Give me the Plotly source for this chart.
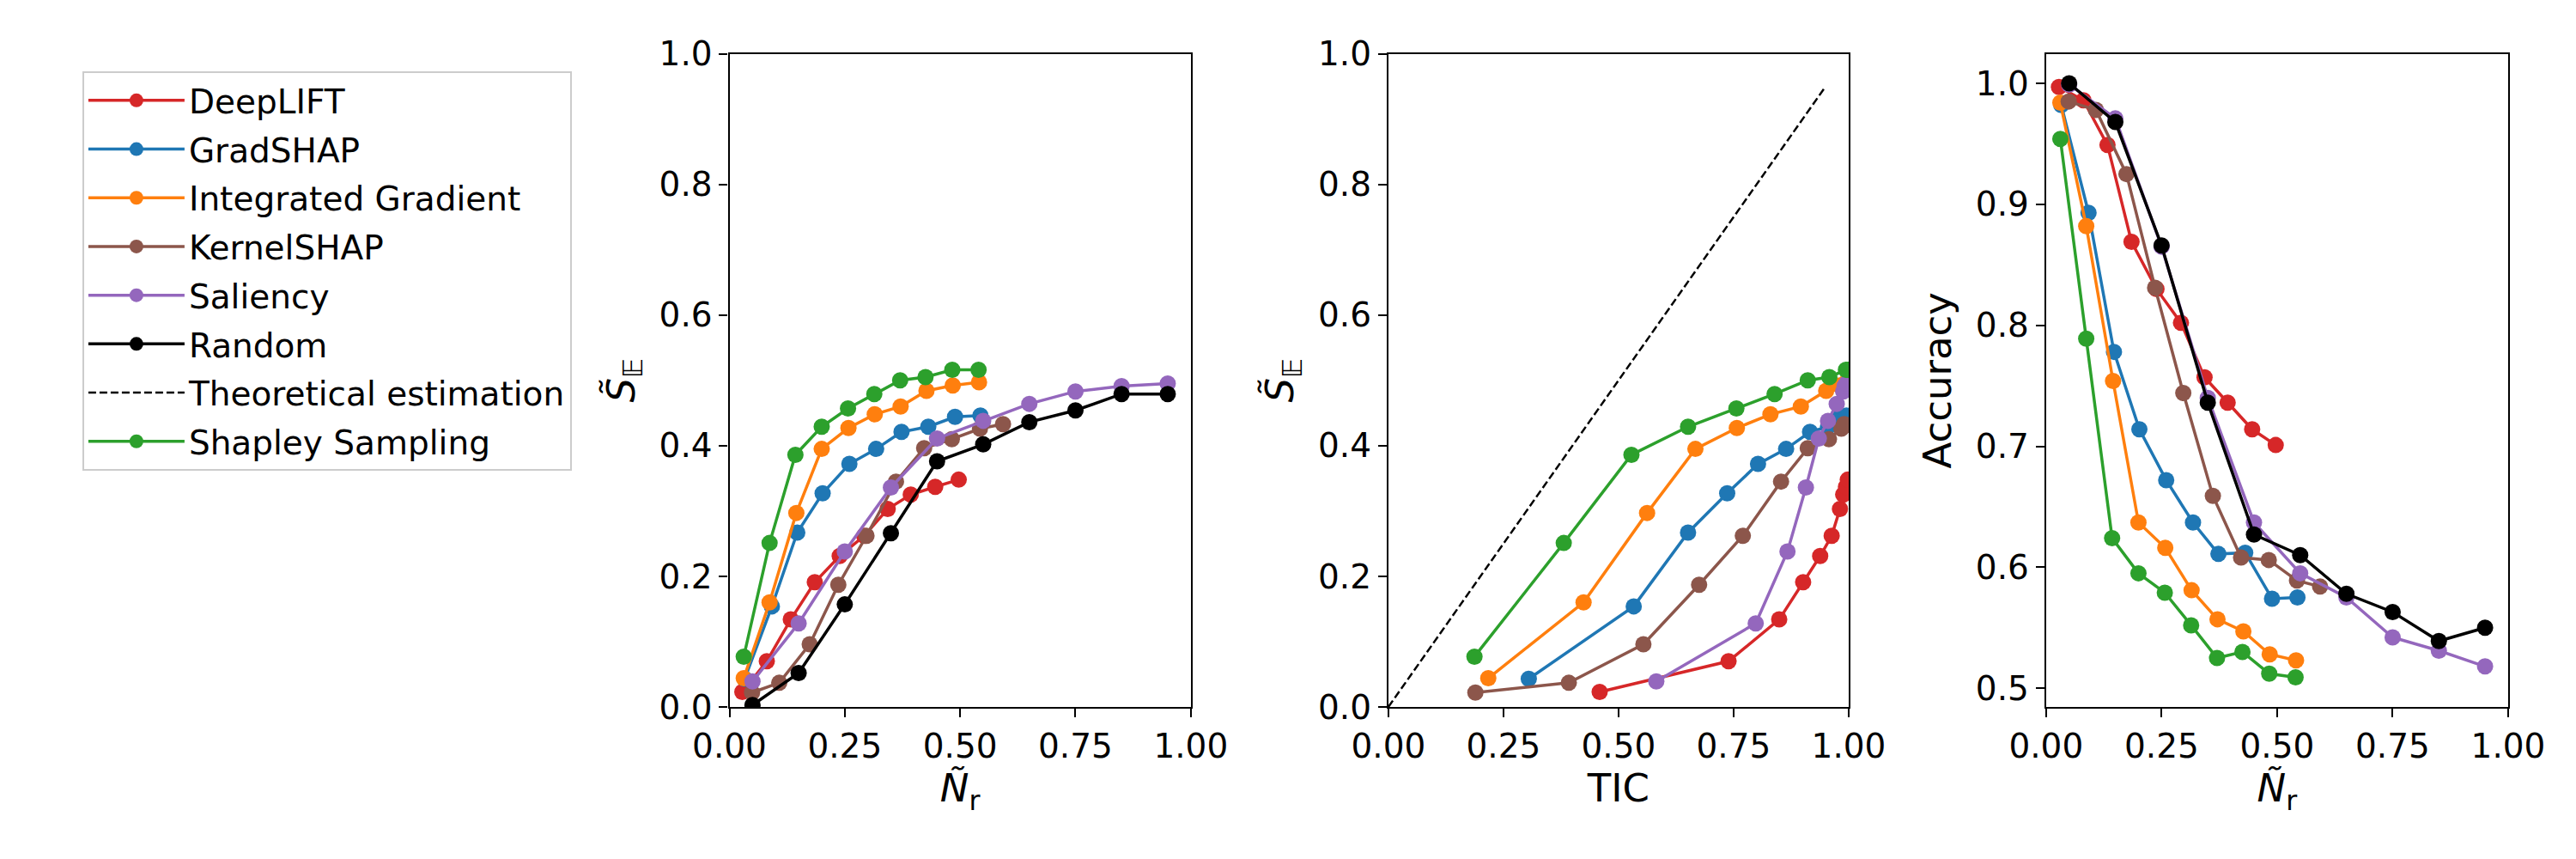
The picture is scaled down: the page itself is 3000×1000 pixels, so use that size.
import plotly.graph_objects as go
from plotly.subplots import make_subplots

# values
nr_deeplift = [0.028, 0.081, 0.133, 0.185, 0.239, 0.292, 0.343, 0.393, 0.446, 0.497]
s_deeplift = [0.023, 0.070, 0.134, 0.191, 0.231, 0.262, 0.303, 0.325, 0.337, 0.348]
tic_deeplift = [0.459, 0.739, 0.849, 0.901, 0.938, 0.963, 0.981, 0.988, 0.994, 0.998]
acc_deeplift = [0.997, 0.986, 0.949, 0.869, 0.830, 0.802, 0.757, 0.736, 0.714, 0.701]

nr_gradshap = [0.033, 0.092, 0.147, 0.202, 0.260, 0.318, 0.373, 0.431, 0.489, 0.544]
s_gradshap = [0.043, 0.154, 0.267, 0.327, 0.372, 0.395, 0.421, 0.429, 0.444, 0.446]
tic_gradshap = [0.305, 0.533, 0.651, 0.736, 0.803, 0.864, 0.916, 0.955, 0.981, 0.995]
acc_gradshap = [0.982, 0.893, 0.778, 0.714, 0.672, 0.637, 0.611, 0.612, 0.574, 0.575]

nr_ig = [0.031, 0.087, 0.145, 0.200, 0.258, 0.315, 0.371, 0.427, 0.484, 0.541]
s_ig = [0.044, 0.160, 0.297, 0.395, 0.427, 0.448, 0.460, 0.484, 0.492, 0.497]
tic_ig = [0.217, 0.424, 0.562, 0.667, 0.757, 0.830, 0.896, 0.951, 0.980, 0.995]
acc_ig = [0.984, 0.882, 0.754, 0.637, 0.616, 0.581, 0.557, 0.547, 0.528, 0.523]

nr_kernelshap = [0.049, 0.108, 0.174, 0.236, 0.297, 0.361, 0.422, 0.482, 0.543, 0.593]
s_kernelshap = [0.022, 0.037, 0.096, 0.187, 0.262, 0.345, 0.396, 0.410, 0.426, 0.433]
tic_kernelshap = [0.189, 0.392, 0.554, 0.675, 0.770, 0.853, 0.911, 0.957, 0.984, 0.990]
acc_kernelshap = [0.985, 0.978, 0.925, 0.831, 0.744, 0.659, 0.608, 0.606, 0.589, 0.584]

nr_saliency = [0.05, 0.15, 0.25, 0.35, 0.45, 0.55, 0.65, 0.75, 0.85, 0.95]
s_saliency = [0.039, 0.128, 0.238, 0.336, 0.411, 0.438, 0.464, 0.483, 0.491, 0.495]
tic_saliency = [0.582, 0.798, 0.867, 0.907, 0.935, 0.955, 0.974, 0.988, 0.991, 0.995]
acc_saliency = [0.999, 0.971, 0.865, 0.740, 0.637, 0.595, 0.575, 0.542, 0.531, 0.518]

nr_random = [0.05, 0.15, 0.25, 0.35, 0.45, 0.55, 0.65, 0.75, 0.85, 0.95]
s_random = [0.003, 0.052, 0.157, 0.266, 0.376, 0.402, 0.436, 0.454, 0.479, 0.479]
acc_random = [1.000, 0.968, 0.866, 0.736, 0.627, 0.610, 0.578, 0.563, 0.539, 0.550]

nr_shapley = [0.031, 0.087, 0.143, 0.200, 0.257, 0.314, 0.370, 0.425, 0.483, 0.540]
s_shapley = [0.077, 0.251, 0.386, 0.429, 0.457, 0.479, 0.500, 0.505, 0.516, 0.516]
tic_shapley = [0.187, 0.381, 0.528, 0.651, 0.756, 0.839, 0.911, 0.958, 0.994, 0.999]
acc_shapley = [0.954, 0.789, 0.624, 0.595, 0.579, 0.552, 0.525, 0.530, 0.512, 0.509]

theory_x = [0, 0.95]
theory_y = [0, 0.95]

FONT = "DejaVu Sans"

fig = make_subplots(rows=1, cols=3)


def add_method(name, color, nr, s, tic, acc):
    style = dict(mode="lines+markers", line=dict(color=color, width=3.5),
                 marker=dict(color=color, size=19), legendgroup=name, name=name)
    fig.add_trace(go.Scatter(x=nr, y=s, showlegend=True, **style), row=1, col=1)
    if tic is not None:
        fig.add_trace(go.Scatter(x=tic, y=s, showlegend=False, **style), row=1, col=2)
    fig.add_trace(go.Scatter(x=nr, y=acc, showlegend=False, **style), row=1, col=3)


add_method("DeepLIFT", "#d62728", nr_deeplift, s_deeplift, tic_deeplift, acc_deeplift)
add_method("GradSHAP", "#1f77b4", nr_gradshap, s_gradshap, tic_gradshap, acc_gradshap)
add_method("Integrated Gradient", "#ff7f0e", nr_ig, s_ig, tic_ig, acc_ig)
add_method("KernelSHAP", "#8c564b", nr_kernelshap, s_kernelshap, tic_kernelshap, acc_kernelshap)
add_method("Saliency", "#9467bd", nr_saliency, s_saliency, tic_saliency, acc_saliency)
add_method("Random", "black", nr_random, s_random, None, acc_random)

fig.add_trace(go.Scatter(x=theory_x, y=theory_y, mode="lines", name="Theoretical estimation",
                         legendgroup="theory",
                         line=dict(color="black", width=2.5, dash="9px,4px")), row=1, col=2)

add_method("Shapley Sampling", "#2ca02c", nr_shapley, s_shapley, tic_shapley, acc_shapley)

axis_common = dict(showline=True, mirror=True, linecolor="black", linewidth=2.2,
                   ticks="outside", ticklen=10, tickwidth=2.2, tickcolor="black",
                   showgrid=False, zeroline=False, automargin=False,
                   tickfont=dict(family=FONT, size=39, color="black"))
title_font = dict(family=FONT, size=45, color="black")

fig.update_xaxes(**axis_common)
fig.update_yaxes(**axis_common)

# the page adds an 8px body margin, so the domains are shifted to compensate
y_dom = [0.185, 0.9455]
x_ticks = [0, 0.25, 0.5, 0.75, 1.0]
fig.update_layout(
    template="none",
    xaxis=dict(domain=[0.2805, 0.4596], range=[0, 1], tickvals=x_ticks, tickformat=".2f",
               title=dict(text="<i>Ñ</i><sub>r</sub>", font=title_font, standoff=12)),
    yaxis=dict(domain=y_dom, range=[0, 1], dtick=0.2, tickformat=".1f",
               title=dict(text="<i>S̃</i><sub>𝔼</sub>", font=title_font, standoff=14)),
    xaxis2=dict(domain=[0.5363, 0.715], range=[0, 1], tickvals=x_ticks, tickformat=".2f",
                title=dict(text="TIC", font=title_font, standoff=12)),
    yaxis2=dict(domain=y_dom, range=[0, 1], dtick=0.2, tickformat=".1f",
                title=dict(text="<i>S̃</i><sub>𝔼</sub>", font=title_font, standoff=14)),
    xaxis3=dict(domain=[0.7916, 0.971], range=[0, 1], tickvals=x_ticks, tickformat=".2f",
                title=dict(text="<i>Ñ</i><sub>r</sub>", font=title_font, standoff=12)),
    yaxis3=dict(domain=y_dom, range=[0.4845, 1.0245], dtick=0.1, tickformat=".1f",
                title=dict(text="Accuracy", font=title_font, standoff=14)),
    width=3000, height=1000,
    margin=dict(l=0, r=0, t=0, b=0, pad=0, autoexpand=False),
    plot_bgcolor="white", paper_bgcolor="white",
    font=dict(family=FONT, color="black"),
    legend=dict(x=0.0293, y=0.925, xanchor="left", yanchor="top",
                xref="container", yref="container",
                bordercolor="#cccccc", borderwidth=2, bgcolor="white",
                font=dict(family=FONT, size=39, color="black"),
                itemwidth=112, tracegroupgap=3, traceorder="grouped"),
)

fig.write_html("out.html")
